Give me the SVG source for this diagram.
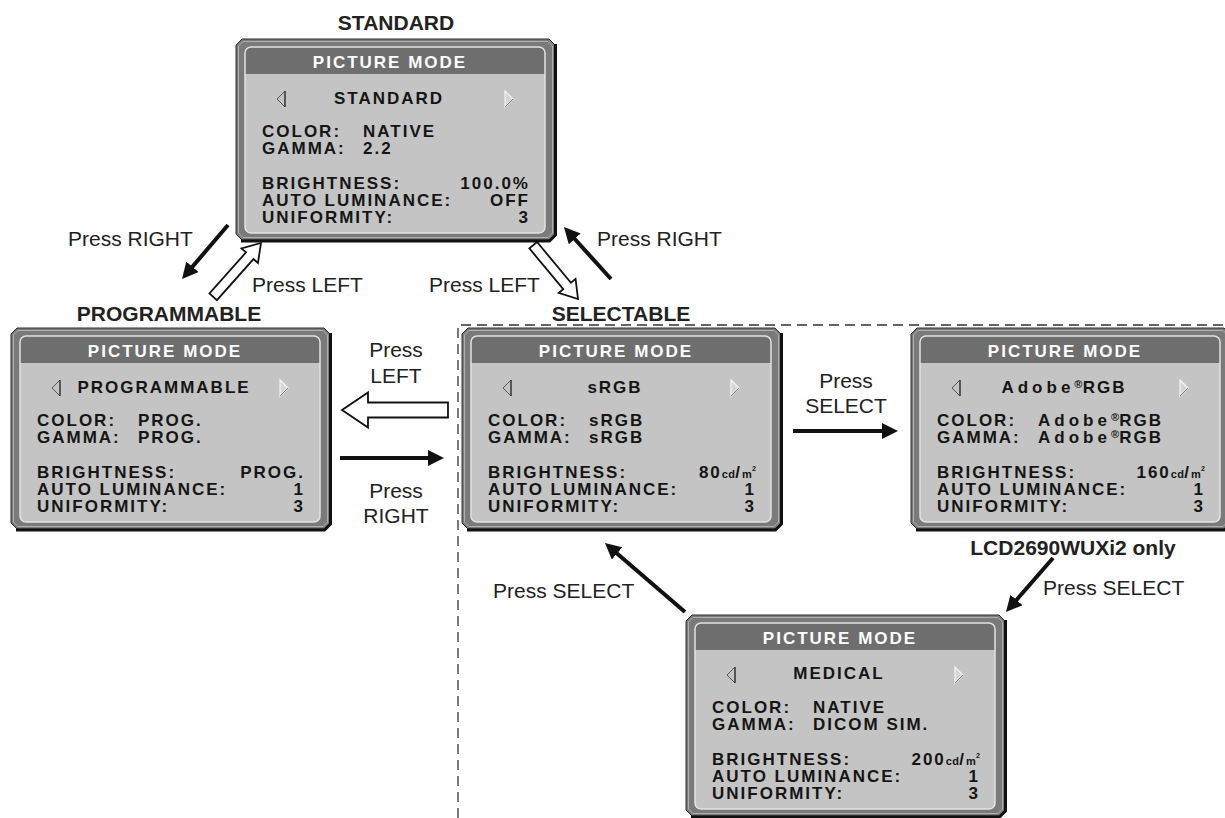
<svg xmlns="http://www.w3.org/2000/svg" xmlns:xlink="http://www.w3.org/1999/xlink" width="1225" height="818" viewBox="0 0 1225 818">
<style>
.lbl{font-family:"Liberation Sans",Arial,sans-serif;font-size:21px;fill:#222}
.bold{font-weight:bold}
.mid{text-anchor:middle}
.osd{font-family:"Liberation Sans",Arial,sans-serif;font-weight:bold;font-size:17px;letter-spacing:2px;fill:#151515}
.ttl{fill:#ffffff}
.end{text-anchor:end}
.sm{font-size:11px;letter-spacing:0.3px}
.sup{font-size:7px;letter-spacing:0}
.wide{letter-spacing:4px}
.ar{stroke:#111;stroke-width:4;fill:none;marker-end:url(#ah)}
.hol{fill:#fff;stroke:#111;stroke-width:1.8;stroke-linejoin:miter}
.dash{fill:none;stroke:#333;stroke-width:1.3;stroke-dasharray:10 6}
</style>
<defs>
<marker id="ah" viewBox="0 0 16 16" refX="10" refY="8" markerWidth="16" markerHeight="16" markerUnits="userSpaceOnUse" orient="auto">
<path d="M0,0 L16,8 L0,16 Z" fill="#111"/>
</marker>
<g id="scr">
<path d="M6,0 H313 L319,6 V195 L313,201 H6 L0,195 V6 Z" fill="#7a7a7a" stroke="#2e2e2e" stroke-width="1"/>
<path d="M7,2.5 H312 L316.5,7 V194 L312,198.5 H7 L2.5,194 V7 Z" fill="none" stroke="#b0b0b0" stroke-width="1"/>
<path d="M319.5,5 V196 L313.5,202 H5" fill="none" stroke="#111" stroke-width="3"/>
<rect x="9" y="8" width="300" height="186" rx="6" fill="#c4c4c4"/>
<path d="M9,14 A6,6 0 0 1 15,8 H303 A6,6 0 0 1 309,14 V35 H9 Z" fill="#6e6e6e"/>
<rect x="9" y="8" width="300" height="186" rx="6" fill="none" stroke="#e2e2e2" stroke-width="1.5"/>
<path d="M49,52 L41,60 L49,68" fill="none" stroke="#555" stroke-width="1"/>
<path d="M49,52 V68" fill="none" stroke="#333" stroke-width="1.5"/>
<path d="M269,52 L277,60 L269,68 Z" fill="#d6d6d6" stroke="#f4f4f4" stroke-width="1.2"/>
<path d="M277,60 L269,68" fill="none" stroke="#808080" stroke-width="1"/>
<text class="osd ttl mid" x="154" y="29">PICTURE MODE</text>
<text class="osd" x="26" y="98">COLOR:</text>
<text class="osd" x="26" y="115">GAMMA:</text>
<text class="osd" x="26" y="150">BRIGHTNESS:</text>
<text class="osd" x="26" y="167">AUTO LUMINANCE:</text>
<text class="osd" x="26" y="184">UNIFORMITY:</text>
</g>
</defs>

<rect width="1225" height="818" fill="#ffffff"/>

<path class="dash" d="M458,818 V325 H1225"/>

<g id="node-standard">
<use xlink:href="#scr" href="#scr" transform="translate(236,39)"/>
<g transform="translate(236,39)">
<text class="osd mid" x="153" y="65">STANDARD</text>
<text class="osd" x="127" y="98">NATIVE</text>
<text class="osd" x="127" y="115">2.2</text>
<text class="osd end" x="294" y="150">100.0%</text>
<text class="osd end" x="294" y="167">OFF</text>
<text class="osd end" x="294" y="184">3</text>
</g>
<text class="lbl bold mid" x="396" y="30">STANDARD</text>
</g>

<g id="node-programmable">
<use xlink:href="#scr" href="#scr" transform="translate(11,328)"/>
<g transform="translate(11,328)">
<text class="osd mid" x="153" y="65">PROGRAMMABLE</text>
<text class="osd" x="127" y="98">PROG.</text>
<text class="osd" x="127" y="115">PROG.</text>
<text class="osd end" x="294" y="150">PROG.</text>
<text class="osd end" x="294" y="167">1</text>
<text class="osd end" x="294" y="184">3</text>
</g>
<text class="lbl bold mid" x="169" y="321">PROGRAMMABLE</text>
</g>

<g id="node-srgb">
<use xlink:href="#scr" href="#scr" transform="translate(462,328)"/>
<g transform="translate(462,328)">
<text class="osd mid" x="153" y="65">sRGB</text>
<text class="osd" x="127" y="98">sRGB</text>
<text class="osd" x="127" y="115">sRGB</text>
<text class="osd end" x="294" y="150">80<tspan class="sm">cd</tspan>/<tspan class="sm">m</tspan><tspan class="sup" dy="-7">2</tspan></text>
<text class="osd end" x="294" y="167">1</text>
<text class="osd end" x="294" y="184">3</text>
</g>
<text class="lbl bold mid" x="621" y="321">SELECTABLE</text>
</g>

<g id="node-adobergb">
<use xlink:href="#scr" href="#scr" transform="translate(911,328)"/>
<g transform="translate(911,328)">
<text class="osd mid" x="153" y="65"><tspan class="wide">Adobe</tspan><tspan class="sm" dy="-5">®</tspan><tspan dy="5">RGB</tspan></text>
<text class="osd" x="127" y="98"><tspan class="wide">Adobe</tspan><tspan class="sm" dy="-5">®</tspan><tspan dy="5">RGB</tspan></text>
<text class="osd" x="127" y="115"><tspan class="wide">Adobe</tspan><tspan class="sm" dy="-5">®</tspan><tspan dy="5">RGB</tspan></text>
<text class="osd end" x="294" y="150">160<tspan class="sm">cd</tspan>/<tspan class="sm">m</tspan><tspan class="sup" dy="-7">2</tspan></text>
<text class="osd end" x="294" y="167">1</text>
<text class="osd end" x="294" y="184">3</text>
</g>
<text class="lbl bold mid" x="1073" y="555">LCD2690WUXi2 only</text>
</g>

<g id="node-medical">
<use xlink:href="#scr" href="#scr" transform="translate(686,615)"/>
<g transform="translate(686,615)">
<text class="osd mid" x="153" y="64">MEDICAL</text>
<text class="osd" x="127" y="98">NATIVE</text>
<text class="osd" x="127" y="115">DICOM SIM.</text>
<text class="osd end" x="294" y="150">200<tspan class="sm">cd</tspan>/<tspan class="sm">m</tspan><tspan class="sup" dy="-7">2</tspan></text>
<text class="osd end" x="294" y="167">1</text>
<text class="osd end" x="294" y="184">3</text>
</g>
</g>

<g id="connectors">
<line class="ar" x1="228" y1="225" x2="185.9" y2="274.4"/>
<line class="ar" x1="611" y1="279" x2="568" y2="231.5"/>
<line class="ar" x1="340" y1="458" x2="438" y2="458"/>
<line class="ar" x1="793" y1="431" x2="892" y2="431"/>
<line class="ar" x1="685" y1="612" x2="609.5" y2="546.9"/>
<line class="ar" x1="1053" y1="558" x2="1009.9" y2="607.5"/>
<polygon class="hol" transform="translate(261,243) rotate(-48.4)" points="0,0 -17,-11 -17,-5 -72,-5 -72,5 -17,5 -17,11"/>
<polygon class="hol" transform="translate(578,299) rotate(50.2)" points="0,0 -17,-11 -17,-5 -70,-5 -70,5 -17,5 -17,11"/>
<polygon class="hol" transform="translate(342,410) rotate(180)" points="0,0 -26,-17.5 -26,-7.5 -106,-7.5 -106,7.5 -26,7.5 -26,17.5"/>
<text class="lbl" x="68" y="246">Press RIGHT</text>
<text class="lbl" x="252" y="292">Press LEFT</text>
<text class="lbl" x="429" y="292">Press LEFT</text>
<text class="lbl" x="597" y="246">Press RIGHT</text>
<text class="lbl mid" x="396" y="357">Press</text>
<text class="lbl mid" x="396" y="383">LEFT</text>
<text class="lbl mid" x="396" y="498">Press</text>
<text class="lbl mid" x="396" y="523">RIGHT</text>
<text class="lbl mid" x="846" y="388">Press</text>
<text class="lbl mid" x="846" y="413">SELECT</text>
<text class="lbl" x="493" y="598">Press SELECT</text>
<text class="lbl" x="1043" y="595">Press SELECT</text>
</g>
</svg>
